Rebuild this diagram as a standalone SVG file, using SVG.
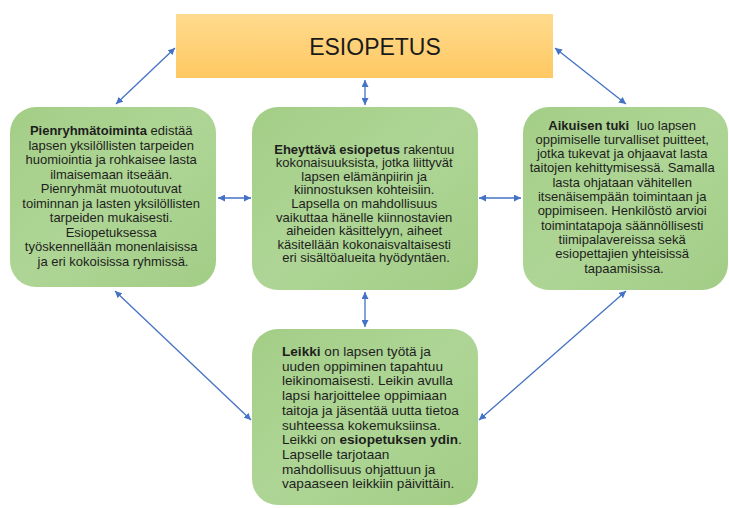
<svg xmlns="http://www.w3.org/2000/svg" width="729" height="508" viewBox="0 0 729 508">
<style>
  .t { font-family: "Liberation Sans", Arial, sans-serif; font-size: 13px; fill: #1e1e1e; }
  .c { text-anchor: middle; }
  .b { font-weight: bold; }
  .g { fill: url(#green); }
  .conn { stroke: #4472C4; stroke-width: 1.3; fill: none; marker-start: url(#ah); marker-end: url(#ah); }
</style>
<defs>
  <linearGradient id="gold" x1="0" y1="0" x2="0" y2="1">
    <stop offset="0" stop-color="#FFDB8E"/>
    <stop offset="1" stop-color="#FFC862"/>
  </linearGradient>
  <linearGradient id="green" x1="0" y1="0" x2="1" y2="1">
    <stop offset="0" stop-color="#A3CE87"/>
    <stop offset="0.5" stop-color="#AED595"/>
    <stop offset="1" stop-color="#A2CD86"/>
  </linearGradient>
  <marker id="ah" viewBox="0 0 10 10" refX="10" refY="5" markerWidth="7" markerHeight="7" markerUnits="userSpaceOnUse" orient="auto-start-reverse">
    <path d="M0,0 L10,5 L0,10 z" fill="#4472C4"/>
  </marker>
</defs>
<rect width="729" height="508" fill="#ffffff"/>

<g id="connectors">
  <line class="conn" x1="116" y1="104" x2="175" y2="48"/>
  <line class="conn" x1="555" y1="48" x2="626" y2="104"/>
  <line class="conn" x1="365" y1="80" x2="365" y2="105"/>
  <line class="conn" x1="218" y1="198" x2="251" y2="198"/>
  <line class="conn" x1="479" y1="198" x2="521" y2="198"/>
  <line class="conn" x1="365" y1="292" x2="365" y2="327"/>
  <line class="conn" x1="115" y1="291" x2="251" y2="420"/>
  <line class="conn" x1="626" y1="291" x2="479" y2="420"/>
</g>

<g id="esiopetus">
  <rect x="176" y="14" width="377" height="64" fill="url(#gold)"/>
  <text x="375" y="55" font-family="'Liberation Sans', Arial, sans-serif" font-size="23" fill="#1a1a1a" text-anchor="middle">ESIOPETUS</text>
</g>

<g id="pienryhma">
  <rect class="g" x="10" y="107" width="206" height="180" rx="26" ry="26"/>
  <text class="t c">
    <tspan x="113" y="135"><tspan class="b">Pienryhmätoiminta</tspan> edistää</tspan>
    <tspan x="113" y="149.5">lapsen yksilöllisten tarpeiden</tspan>
    <tspan x="113" y="164">huomiointia ja rohkaisee lasta</tspan>
    <tspan x="113" y="178.5">ilmaisemaan itseään.</tspan>
    <tspan x="113" y="193">Pienryhmät muotoutuvat</tspan>
    <tspan x="113" y="207.5">toiminnan ja lasten yksilöllisten</tspan>
    <tspan x="113" y="222">tarpeiden mukaisesti.</tspan>
    <tspan x="113" y="236.5">Esiopetuksessa</tspan>
    <tspan x="113" y="251">työskennellään monenlaisissa</tspan>
    <tspan x="113" y="265.5">ja eri kokoisissa ryhmissä.</tspan>
  </text>
</g>

<g id="eheyttava">
  <rect class="g" x="252" y="107" width="226" height="183" rx="26" ry="26"/>
  <text class="t c">
    <tspan x="366" y="153.5"><tspan class="b">Eheyttävä esiopetus</tspan> rakentuu</tspan>
    <tspan x="366" y="167.1">kokonaisuuksista, jotka liittyvät</tspan>
    <tspan x="366" y="180.7">lapsen elämänpiirin ja</tspan>
    <tspan x="366" y="194.3">kiinnostuksen kohteisiin.</tspan>
    <tspan x="366" y="207.9">Lapsella on mahdollisuus</tspan>
    <tspan x="366" y="221.5">vaikuttaa hänelle kiinnostavien</tspan>
    <tspan x="366" y="235.1">aiheiden käsittelyyn, aiheet</tspan>
    <tspan x="366" y="248.7">käsitellään kokonaisvaltaisesti</tspan>
    <tspan x="366" y="262.3">eri sisältöalueita hyödyntäen.</tspan>
  </text>
</g>

<g id="aikuisen-tuki">
  <rect class="g" x="523" y="107" width="205" height="183" rx="26" ry="26"/>
  <text class="t c">
    <tspan x="624" y="129.5"><tspan class="b">Aikuisen tuki</tspan><tspan dx="4"> luo lapsen</tspan></tspan>
    <tspan x="624" y="143.8">oppimiselle turvalliset puitteet,</tspan>
    <tspan x="624" y="158.1">jotka tukevat ja ohjaavat lasta</tspan>
    <tspan x="624" y="172.4">taitojen kehittymisessä. Samalla</tspan>
    <tspan x="624" y="186.7">lasta ohjataan vähitellen</tspan>
    <tspan x="624" y="201">itsenäisempään toimintaan ja</tspan>
    <tspan x="624" y="215.3">oppimiseen. Henkilöstö arvioi</tspan>
    <tspan x="624" y="229.6">toimintatapoja säännöllisesti</tspan>
    <tspan x="624" y="243.9">tiimipalavereissa sekä</tspan>
    <tspan x="624" y="258.2">esiopettajien yhteisissä</tspan>
    <tspan x="624" y="272.5">tapaamisissa.</tspan>
  </text>
</g>

<g id="leikki">
  <rect class="g" x="252" y="329" width="226" height="176" rx="26" ry="26"/>
  <text class="t" style="font-size:13.6px">
    <tspan x="282" y="356"><tspan class="b">Leikki</tspan> on lapsen työtä ja</tspan>
    <tspan x="282" y="370.7">uuden oppiminen tapahtuu</tspan>
    <tspan x="282" y="385.4">leikinomaisesti. Leikin avulla</tspan>
    <tspan x="282" y="400.1">lapsi harjoittelee oppimiaan</tspan>
    <tspan x="282" y="414.8">taitoja ja jäsentää uutta tietoa</tspan>
    <tspan x="282" y="429.5">suhteessa kokemuksiinsa.</tspan>
    <tspan x="282" y="444.2">Leikki on <tspan class="b">esiopetuksen ydin</tspan>.</tspan>
    <tspan x="282" y="458.9">Lapselle tarjotaan</tspan>
    <tspan x="282" y="473.6">mahdollisuus ohjattuun ja</tspan>
    <tspan x="282" y="488.3">vapaaseen leikkiin päivittäin.</tspan>
  </text>
</g>
</svg>
